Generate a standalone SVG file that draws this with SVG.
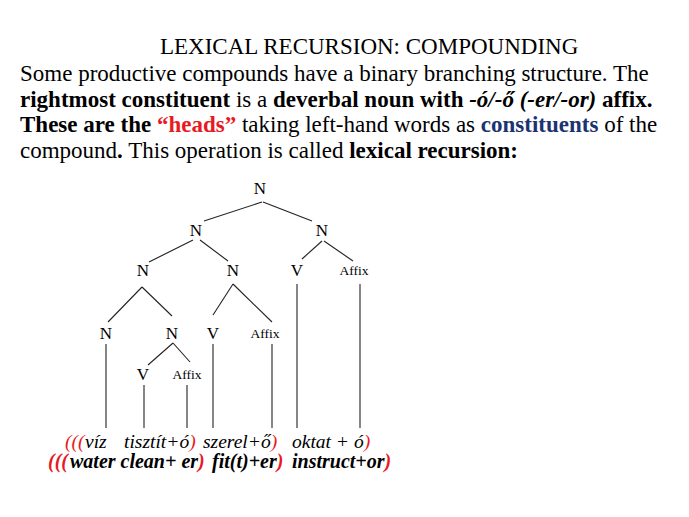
<svg xmlns="http://www.w3.org/2000/svg" width="689" height="517" viewBox="0 0 689 517">
<style>
text{font-family:"Liberation Serif","Times New Roman",serif;fill:#000}
.t{font-size:23px}
.b{font-weight:bold}
.i{font-style:italic}
.red{fill:#e8191f}
.blue{fill:#1c3372}
.lab{font-size:17px;text-anchor:middle}
.aff{font-size:13.5px;text-anchor:middle}
.ex{font-size:19.5px;font-style:italic}
.exb{font-size:20px;font-style:italic;font-weight:bold}
#connectors line{stroke:#222;stroke-width:1.1}
</style>
<rect width="689" height="517" fill="#fff"/>
<g id="header">
<text class="t" x="160" y="54">LEXICAL RECURSION: COMPOUNDING</text>
<text class="t" x="20" y="81">Some productive compounds have a binary branching structure. The</text>
<text class="t" x="20" y="107"><tspan class="b">rightmost constituent</tspan> is a <tspan class="b">deverbal noun with </tspan><tspan class="b i">-ó/-ő (-er/-or)</tspan><tspan class="b"> affix.</tspan></text>
<text class="t" x="20" y="132"><tspan class="b">These are the </tspan><tspan class="b red">“heads”</tspan> taking left-hand words as <tspan class="b blue">constituents</tspan> of the</text>
<text class="t" x="20" y="158">compound<tspan class="b">.</tspan> This operation is called <tspan class="b">lexical recursion:</tspan></text>
</g>
<g id="connectors">
<line x1="262" y1="202" x2="204" y2="221"/>
<line x1="263" y1="202" x2="312" y2="221"/>
<line x1="193" y1="240" x2="149" y2="262"/>
<line x1="200" y1="240" x2="228" y2="261"/>
<line x1="322" y1="241" x2="302" y2="259"/>
<line x1="324" y1="241" x2="353" y2="261"/>
<line x1="142" y1="287" x2="108" y2="322"/>
<line x1="142" y1="287" x2="172" y2="316"/>
<line x1="233" y1="284" x2="213" y2="315"/>
<line x1="233" y1="284" x2="272" y2="322"/>
<line x1="173" y1="343" x2="148" y2="365"/>
<line x1="173" y1="343" x2="190" y2="362"/>
<line x1="106" y1="344" x2="106" y2="428"/>
<line x1="144" y1="385" x2="144" y2="428"/>
<line x1="187" y1="385" x2="187" y2="428"/>
<line x1="213" y1="344" x2="213" y2="428"/>
<line x1="272" y1="344" x2="272" y2="428"/>
<line x1="297" y1="284" x2="297" y2="428"/>
<line x1="360" y1="284" x2="360" y2="428"/>
</g>
<g id="n0"><text class="lab" x="260" y="194">N</text></g>
<g id="n1"><text class="lab" x="196" y="236">N</text></g>
<g id="n2"><text class="lab" x="322" y="236">N</text></g>
<g id="n3"><text class="lab" x="143" y="276">N</text></g>
<g id="n4"><text class="lab" x="233" y="276">N</text></g>
<g id="v5"><text class="lab" x="297" y="276">V</text></g>
<g id="a6"><text class="aff" x="354" y="275">Affix</text></g>
<g id="n7"><text class="lab" x="106" y="339">N</text></g>
<g id="n8"><text class="lab" x="172" y="339">N</text></g>
<g id="v9"><text class="lab" x="213" y="339">V</text></g>
<g id="a10"><text class="aff" x="265" y="338">Affix</text></g>
<g id="v11"><text class="lab" x="143" y="380">V</text></g>
<g id="a12"><text class="aff" x="187" y="379">Affix</text></g>
<g id="example">
<text class="ex" y="448"><tspan class="red" x="65">(((</tspan><tspan x="85">víz</tspan><tspan x="124">tisztít+ó</tspan><tspan class="red">)</tspan><tspan x="203">szerel+ő</tspan><tspan class="red">)</tspan><tspan x="292">oktat + ó</tspan><tspan class="red">)</tspan></text>
<text class="exb" y="468"><tspan class="red" x="48">(((</tspan><tspan x="70">water clean+ er</tspan><tspan class="red">)</tspan><tspan x="212">fit(t)+er</tspan><tspan class="red">)</tspan><tspan x="292">instruct+or</tspan><tspan class="red">)</tspan></text>
</g>
</svg>
